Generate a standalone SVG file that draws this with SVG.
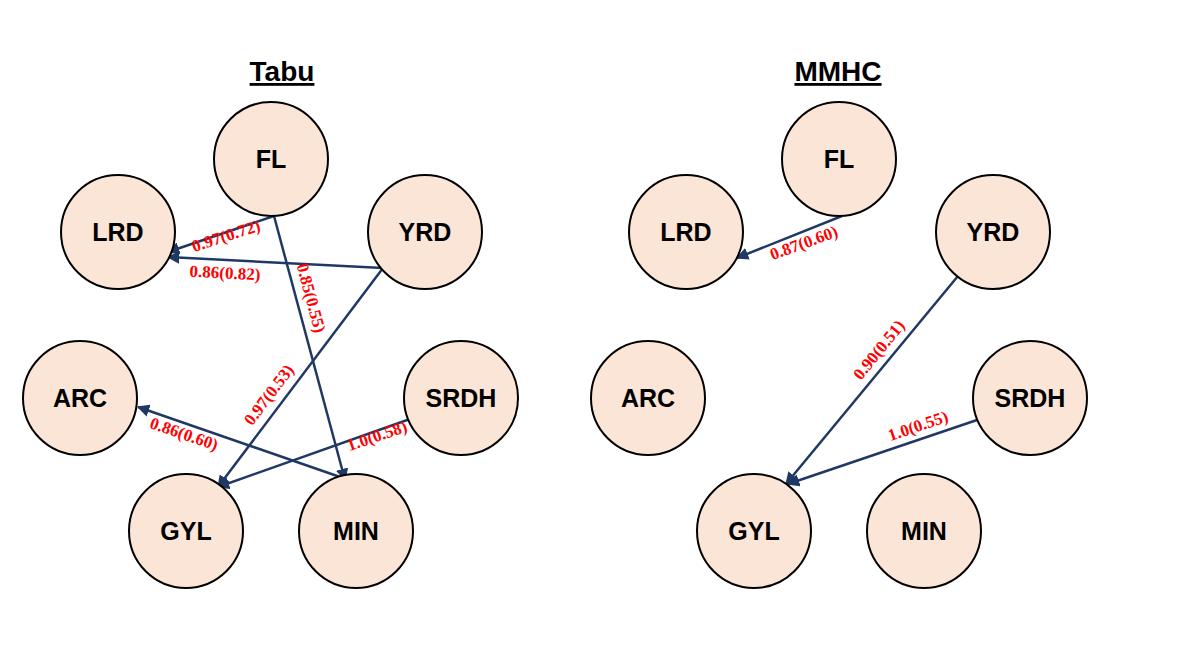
<svg xmlns="http://www.w3.org/2000/svg" width="1183" height="666" viewBox="0 0 1183 666">
<style>
.n{fill:#fae5d6;stroke:#000;stroke-width:2}
.t{font-family:"Liberation Sans",Arial,sans-serif;font-weight:bold;font-size:25px;fill:#000;text-anchor:middle;dominant-baseline:central}
.h{font-family:"Liberation Sans",Arial,sans-serif;font-weight:bold;font-size:28px;fill:#000;text-anchor:middle;text-decoration:underline}
.e{stroke:#203864;stroke-width:2.5;fill:none;marker-end:url(#a)}
.l{font-family:"Liberation Serif","Times New Roman",serif;font-weight:bold;font-size:17px;fill:#ff0000;text-anchor:middle;dominant-baseline:central}
</style>
<defs>
<marker id="a" viewBox="0 0 10 10" refX="9" refY="5" markerWidth="5" markerHeight="5" orient="auto" markerUnits="strokeWidth">
<path d="M0,0 L10,5 L0,10 z" fill="#203864"/>
</marker>
</defs>
<rect width="1183" height="666" fill="#fff"/>
<text class="h" x="282" y="81">Tabu</text>
<text class="h" x="838" y="81">MMHC</text>
<g id="connectors">
<line class="e" x1="274" y1="216" x2="168" y2="252"/>
<line class="e" x1="383" y1="268" x2="168" y2="257"/>
<line class="e" x1="274" y1="216" x2="345" y2="480"/>
<line class="e" x1="383" y1="268" x2="218" y2="487"/>
<line class="e" x1="343" y1="478" x2="138" y2="407"/>
<line class="e" x1="410" y1="419" x2="218" y2="487"/>
<line class="e" x1="842" y1="216" x2="737" y2="258"/>
<line class="e" x1="958" y1="276" x2="786" y2="484"/>
<line class="e" x1="977" y1="420" x2="788" y2="484"/>
</g>
<g id="labels">
<text class="l" transform="translate(226,236) rotate(-18)">0.97(0.72)</text>
<text class="l" transform="translate(225,273) rotate(3)">0.86(0.82)</text>
<text class="l" transform="translate(311,298) rotate(75)">0.85(0.55)</text>
<text class="l" transform="translate(269,395) rotate(-53)">0.97(0.53)</text>
<text class="l" transform="translate(184,434) rotate(19)">0.86(0.60)</text>
<text class="l" transform="translate(377,436) rotate(-19)">1.0(0.58)</text>
<text class="l" transform="translate(804,243) rotate(-20)">0.87(0.60)</text>
<text class="l" transform="translate(879,350) rotate(-51)">0.90(0.51)</text>
<text class="l" transform="translate(918,426) rotate(-19)">1.0(0.55)</text>
</g>
<g id="tabu-FL"><circle class="n" cx="271" cy="159" r="57"/><text class="t" x="271" y="159">FL</text></g>
<g id="tabu-LRD"><circle class="n" cx="118" cy="232" r="57"/><text class="t" x="118" y="232">LRD</text></g>
<g id="tabu-YRD"><circle class="n" cx="425" cy="232" r="57"/><text class="t" x="425" y="232">YRD</text></g>
<g id="tabu-ARC"><circle class="n" cx="80" cy="398" r="57"/><text class="t" x="80" y="398">ARC</text></g>
<g id="tabu-SRDH"><circle class="n" cx="461" cy="398" r="57"/><text class="t" x="461" y="398">SRDH</text></g>
<g id="tabu-GYL"><circle class="n" cx="186" cy="531" r="57"/><text class="t" x="186" y="531">GYL</text></g>
<g id="tabu-MIN"><circle class="n" cx="356" cy="531" r="57"/><text class="t" x="356" y="531">MIN</text></g>
<g id="mmhc-FL"><circle class="n" cx="839" cy="159" r="57"/><text class="t" x="839" y="159">FL</text></g>
<g id="mmhc-LRD"><circle class="n" cx="686" cy="232" r="57"/><text class="t" x="686" y="232">LRD</text></g>
<g id="mmhc-YRD"><circle class="n" cx="993" cy="232" r="57"/><text class="t" x="993" y="232">YRD</text></g>
<g id="mmhc-ARC"><circle class="n" cx="648" cy="398" r="57"/><text class="t" x="648" y="398">ARC</text></g>
<g id="mmhc-SRDH"><circle class="n" cx="1030" cy="398" r="57"/><text class="t" x="1030" y="398">SRDH</text></g>
<g id="mmhc-GYL"><circle class="n" cx="754" cy="531" r="57"/><text class="t" x="754" y="531">GYL</text></g>
<g id="mmhc-MIN"><circle class="n" cx="924" cy="531" r="57"/><text class="t" x="924" y="531">MIN</text></g>
</svg>
